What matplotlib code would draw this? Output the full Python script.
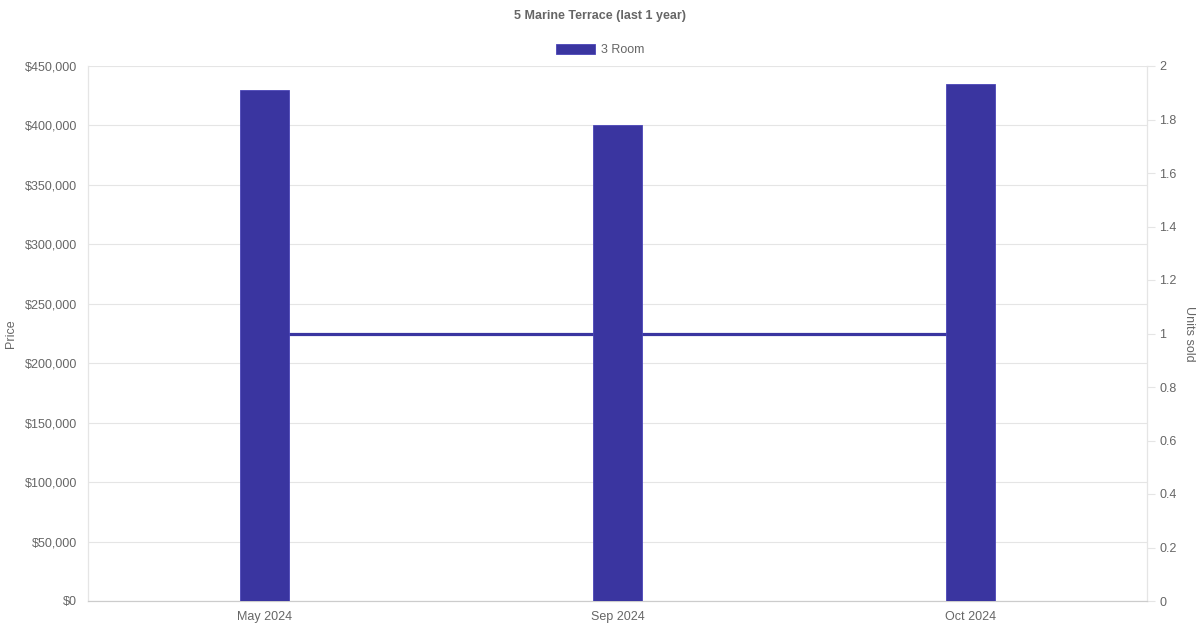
import matplotlib.pyplot as plt
from matplotlib.patches import Patch
from matplotlib.ticker import FuncFormatter

plt.rcParams['font.family'] = ['Liberation Sans', 'DejaVu Sans']

months = ['May 2024', 'Sep 2024', 'Oct 2024']
prices = [430000, 400000, 435000]
units = [1, 1, 1]

bar_color = '#3a35a0'
text_color = '#666666'
grid_color = '#e5e5e5'

fig = plt.figure(figsize=(12, 6.3), dpi=100)
ax = fig.add_axes([88 / 1200, 29 / 630, 1059 / 1200, 535 / 630])
ax2 = ax.twinx()

# price bars on left axis, drawn above the units line
ax.set_zorder(ax2.get_zorder() + 1)
ax.patch.set_visible(False)

x = list(range(len(months)))
ax.bar(x, prices, width=0.138, color=bar_color, edgecolor='#4a45b8', linewidth=0.6, zorder=3)
ax2.plot(x, units, color=bar_color, linewidth=2.3, zorder=2)

ax.set_xlim(-0.5, len(months) - 0.5)
ax.set_ylim(0, 450000)
ax.set_yticks(range(0, 450001, 50000))
ax.yaxis.set_major_formatter(FuncFormatter(lambda v, p: '${:,.0f}'.format(v)))
ax.set_xticks(x)
ax.set_xticklabels(months)
ax.grid(axis='y', color=grid_color, linewidth=0.8, zorder=0)
ax.set_axisbelow(True)

ax2.set_ylim(0, 2)
ax2.set_yticks([0, 0.2, 0.4, 0.6, 0.8, 1, 1.2, 1.4, 1.6, 1.8, 2])
ax2.set_yticklabels(['0', '0.2', '0.4', '0.6', '0.8', '1', '1.2', '1.4', '1.6', '1.8', '2'])

for a in (ax, ax2):
    for side in ('left', 'right', 'top'):
        a.spines[side].set_color(grid_color)
    a.spines['top'].set_visible(False)
    a.spines['bottom'].set_color('#cccccc')
    a.tick_params(colors=text_color, labelsize=9)

ax.tick_params(axis='y', length=0, pad=8)
ax.tick_params(axis='x', length=0, pad=7)
ax2.tick_params(axis='y', length=6, color=grid_color, pad=3)

ax.set_ylabel('Price', color=text_color, fontsize=9, va='center')
ax.yaxis.set_label_coords(-0.0727, 0.5)
ax2.set_ylabel('Units sold', color=text_color, fontsize=9, rotation=270, va='center')
ax2.yaxis.set_label_coords(1.0397, 0.5)

fig.text(0.5, 1 - 16 / 630, '5 Marine Terrace (last 1 year)', ha='center', va='center',
         fontsize=9, fontweight='bold', color=text_color)

handle = Patch(facecolor=bar_color, edgecolor='#4a45b8', linewidth=0.6)
fig.legend([handle], ['3 Room'], loc='center', bbox_to_anchor=(0.5, 1 - 50 / 630),
           frameon=False, fontsize=9, labelcolor=text_color,
           handlelength=3.1, handleheight=0.9, handletextpad=0.5)

fig.savefig('out.png', dpi=100, facecolor='white')
